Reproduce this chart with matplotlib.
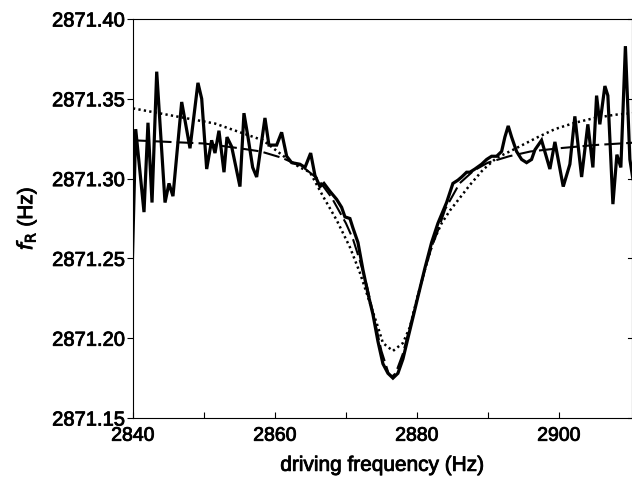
import matplotlib
matplotlib.use("Agg")
import matplotlib.pyplot as plt
import matplotlib.patheffects as pe

plt.rcParams['font.family'] = ['Liberation Sans', 'DejaVu Sans']

# measured data (solid line)
data_f = [2839.9, 2840.38, 2841.55, 2842.11, 2842.68, 2843.34, 2844.51, 2845.07, 2845.63,
          2846.86, 2848.03, 2849.15, 2849.68, 2850.38, 2851.08, 2851.55, 2852.11, 2852.82,
          2853.24, 2853.90, 2855.07, 2855.63, 2856.20, 2856.86, 2857.42, 2858.59, 2859.15,
          2860.24, 2860.94, 2861.65, 2862.35, 2863.52, 2864.23, 2865.03, 2865.63, 2866.34,
          2866.90, 2867.75, 2868.69, 2869.39, 2869.86, 2870.56, 2870.99, 2871.69, 2872.39,
          2873.10, 2873.80, 2874.51, 2875.21, 2875.92, 2876.62, 2877.32, 2878.03, 2878.73,
          2879.44, 2880.14, 2881.13, 2882.07, 2882.96, 2884.18, 2885.07, 2885.77, 2886.30,
          2887.00, 2887.46, 2888.17, 2889.11, 2889.82, 2890.52, 2891.23, 2891.93, 2892.39,
          2892.86, 2893.34, 2894.04, 2894.75, 2895.45, 2896.15, 2896.62, 2897.56, 2898.73,
          2899.44, 2900.61, 2901.55, 2902.25, 2903.20, 2904.08, 2904.79, 2905.31, 2905.77,
          2906.48, 2906.90, 2907.61, 2908.17, 2908.73, 2909.37, 2910.00, 2910.42]
data_v = [2871.246, 2871.331, 2871.279, 2871.335, 2871.285, 2871.367, 2871.285, 2871.297, 2871.289,
          2871.348, 2871.319, 2871.360, 2871.350, 2871.306, 2871.324, 2871.316, 2871.330, 2871.304,
          2871.326, 2871.320, 2871.295, 2871.341, 2871.326, 2871.307, 2871.301, 2871.338, 2871.321,
          2871.321, 2871.329, 2871.314, 2871.310, 2871.309, 2871.307, 2871.316, 2871.302, 2871.295,
          2871.297, 2871.292, 2871.287, 2871.282, 2871.276, 2871.275, 2871.269, 2871.260, 2871.243,
          2871.228, 2871.215, 2871.198, 2871.184, 2871.178, 2871.175, 2871.178, 2871.187, 2871.200,
          2871.213, 2871.226, 2871.244, 2871.260, 2871.272, 2871.285, 2871.297, 2871.299, 2871.301,
          2871.304, 2871.304, 2871.306, 2871.309, 2871.312, 2871.314, 2871.314, 2871.317, 2871.326,
          2871.333, 2871.326, 2871.317, 2871.312, 2871.310, 2871.312, 2871.318, 2871.324, 2871.306,
          2871.323, 2871.295, 2871.309, 2871.339, 2871.301, 2871.334, 2871.307, 2871.352, 2871.334,
          2871.358, 2871.352, 2871.284, 2871.315, 2871.307, 2871.383, 2871.312, 2871.300]

# fit curve (long dashes)
fit_f = [2840, 2845, 2850, 2855, 2858, 2861, 2864, 2866, 2868, 2870, 2871, 2872, 2873, 2874,
         2875, 2876, 2876.5, 2877, 2878, 2879, 2880, 2881, 2882, 2883, 2884, 2886, 2888, 2890,
         2893, 2896, 2900, 2905, 2910.5]
fit_v = [2871.324, 2871.323, 2871.322, 2871.319, 2871.317, 2871.313, 2871.307, 2871.300,
         2871.288, 2871.272, 2871.262, 2871.248, 2871.232, 2871.212, 2871.192, 2871.178,
         2871.176, 2871.178, 2871.190, 2871.207, 2871.224, 2871.241, 2871.256, 2871.268,
         2871.281, 2871.297, 2871.305, 2871.310, 2871.314, 2871.317, 2871.319, 2871.321, 2871.3225]

# second curve (dotted)
dot_f = [2840.0, 2851.55, 2858.31, 2862.11, 2863.52, 2864.93, 2866.76, 2868.69, 2870.56,
         2871.97, 2873.38, 2874.51, 2875.21, 2876.62, 2878.03, 2879.01, 2879.96, 2881.13,
         2882.25, 2883.48, 2884.65, 2886.06, 2887.46, 2889.30, 2891.23, 2893.52, 2897.04,
         2899.44, 2902.25, 2905.07, 2907.89, 2910.4]
dot_v = [2871.344, 2871.3345, 2871.324, 2871.311, 2871.307, 2871.304, 2871.289, 2871.274,
         2871.257, 2871.241, 2871.222, 2871.207, 2871.197, 2871.192, 2871.197, 2871.207,
         2871.224, 2871.243, 2871.260, 2871.272, 2871.280, 2871.288, 2871.296, 2871.3055,
         2871.313, 2871.318, 2871.326, 2871.331, 2871.335, 2871.338, 2871.340, 2871.341]

x_ticks = [2840, 2860, 2880, 2900]
x_minor = [2850, 2870, 2890]
y_ticks = [2871.15, 2871.20, 2871.25, 2871.30, 2871.35, 2871.40]

fig = plt.figure(figsize=(6.32, 4.85), dpi=100)
ax = fig.add_axes([133/632, 1-419/485, 1-133/632, (419-20)/485])

ax.plot(dot_f, dot_v, color='black', lw=1.8, linestyle=(0, (0.9, 1.3)), zorder=2)
ax.plot(fit_f, fit_v, color='black', lw=1.5, linestyle=(0, (8, 2.5)), zorder=3)
ax.plot(data_f, data_v, color='black', lw=2.3, zorder=4, solid_joinstyle='miter')

ax.set_xlim(2840, 2910.3)
ax.set_ylim(2871.15, 2871.40)
ax.set_xticks(x_ticks)
ax.set_xticks(x_minor, minor=True)
ax.set_xticklabels([str(t) for t in x_ticks])
ax.set_yticks(y_ticks)
ax.set_yticklabels(['%.2f' % t for t in y_ticks])

ax.tick_params(axis='x', which='both', direction='in', length=4, width=0.8,
               labelsize=14, pad=7, top=False)
ax.tick_params(axis='y', which='both', direction='out', length=4, width=0.8,
               labelsize=14.5, pad=2, right=False)
for sp in ax.spines.values():
    sp.set_linewidth(0.8)

# inward ticks on the right border
for t in y_ticks:
    ax.plot([0.992, 1.0], [t, t], transform=ax.get_yaxis_transform(),
            color='black', lw=0.8, clip_on=False)

xl = ax.set_xlabel('driving frequency (Hz)', fontsize=15, labelpad=8)
yl = ax.set_ylabel(r'$\mathit{f}_{\mathrm{R}}$ (Hz)', fontsize=15, labelpad=10)

stroke = [pe.withStroke(linewidth=0.6, foreground='black')]
for txt in ax.get_xticklabels() + ax.get_yticklabels() + [xl, yl]:
    txt.set_path_effects(stroke)

fig.savefig('out.png', dpi=100)
